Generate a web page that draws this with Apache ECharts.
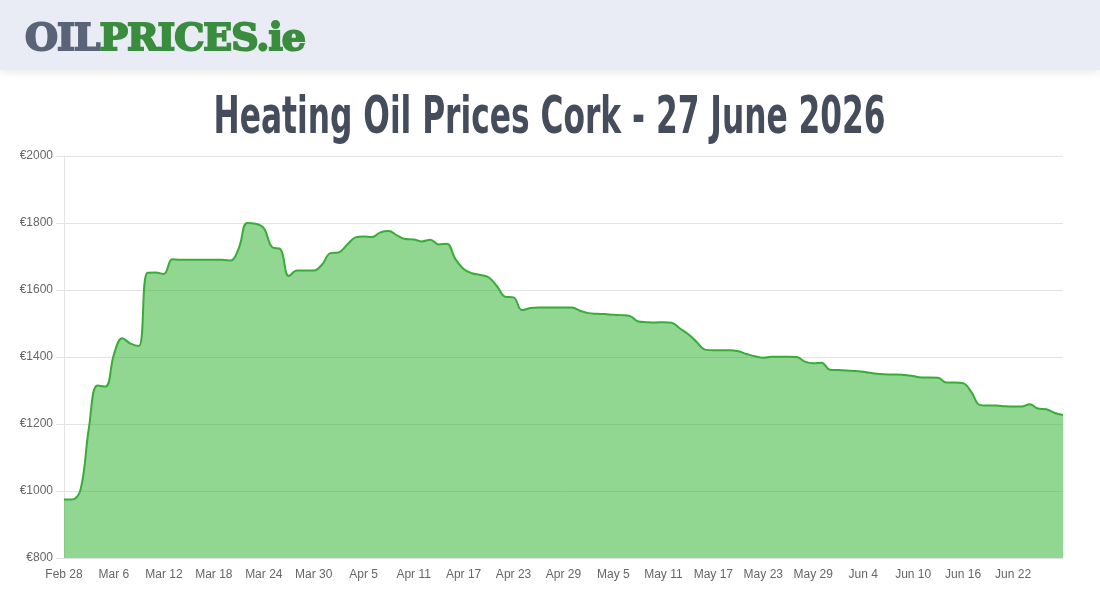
<!DOCTYPE html>
<html>
<head>
<meta charset="utf-8">
<script src="https://cdn.jsdelivr.net/npm/echarts@6/dist/echarts.min.js"></script>
<style>
  html, body { margin: 0; padding: 0; width: 1100px; height: 600px; overflow: hidden; background: #fff; }
  #header { position: absolute; left: 0; top: 0; width: 1100px; height: 70px; background: #e9ecf4;
            box-shadow: 0 3px 8px rgba(0,0,0,0.08); z-index: 2; }
  #logo { position: absolute; left: 25px; top: 14px; font-family: "DejaVu Serif", serif; font-weight: 900;
          font-size: 38px; line-height: 46px; white-space: nowrap; transform-origin: 0 0; letter-spacing: -1px; }
  #logo .a { color: #5a6479; -webkit-text-stroke: 2px #5a6479; }
  #logo .b { color: #3a8c3e; -webkit-text-stroke: 2px #3a8c3e; }
  #title { position: absolute; left: 0; top: 84px; width: 1100px; text-align: center; z-index: 2; }
  #title span { display: inline-block; font-family: "DejaVu Sans Condensed", "Liberation Sans Narrow", sans-serif;
                font-weight: bold; font-size: 52px; line-height: 62px; color: #454d5d; white-space: nowrap;
                transform-origin: 50% 50%; }
  #chart { position: absolute; left: 0; top: 0; width: 1100px; height: 600px; z-index: 1; }
</style>
</head>
<body>
<div id="header"><div id="logo"><span class="a">OIL</span><span class="b">PRICES.ie</span></div></div>
<div id="title"><span id="titleText">Heating Oil Prices Cork - 27 June 2026</span></div>
<div id="chart"></div>
<script>
const dates = [
  "Feb 28",
  "Mar 1","Mar 2","Mar 3","Mar 4","Mar 5","Mar 6","Mar 7","Mar 8","Mar 9","Mar 10",
  "Mar 11","Mar 12","Mar 13","Mar 14","Mar 15","Mar 16","Mar 17","Mar 18","Mar 19","Mar 20",
  "Mar 21","Mar 22","Mar 23","Mar 24","Mar 25","Mar 26","Mar 27","Mar 28","Mar 29","Mar 30","Mar 31",
  "Apr 1","Apr 2","Apr 3","Apr 4","Apr 5","Apr 6","Apr 7","Apr 8","Apr 9","Apr 10",
  "Apr 11","Apr 12","Apr 13","Apr 14","Apr 15","Apr 16","Apr 17","Apr 18","Apr 19","Apr 20",
  "Apr 21","Apr 22","Apr 23","Apr 24","Apr 25","Apr 26","Apr 27","Apr 28","Apr 29","Apr 30",
  "May 1","May 2","May 3","May 4","May 5","May 6","May 7","May 8","May 9","May 10",
  "May 11","May 12","May 13","May 14","May 15","May 16","May 17","May 18","May 19","May 20",
  "May 21","May 22","May 23","May 24","May 25","May 26","May 27","May 28","May 29","May 30","May 31",
  "Jun 1","Jun 2","Jun 3","Jun 4","Jun 5","Jun 6","Jun 7","Jun 8","Jun 9","Jun 10",
  "Jun 11","Jun 12","Jun 13","Jun 14","Jun 15","Jun 16","Jun 17","Jun 18","Jun 19","Jun 20",
  "Jun 21","Jun 22","Jun 23","Jun 24","Jun 25","Jun 26","Jun 27","Jun 28"
];
const shownDateLabels = ["Feb 28","Mar 6","Mar 12","Mar 18","Mar 24","Mar 30","Apr 5","Apr 11","Apr 17",
  "Apr 23","Apr 29","May 5","May 11","May 17","May 23","May 29","Jun 4","Jun 10","Jun 16","Jun 22"];
const pricesFeb = [975];
const pricesMar = [975,1005,1190,1315,1312,1408,1456,1440,1433,1651,
                   1652,1648,1692,1690,1690,1690,1690,1690,1690,1688,
                   1725,1800,1798,1785,1728,1722,1642,1658,1658,1658,1676];
const pricesApr = [1710,1712,1735,1757,1760,1758,1772,1776,1763,1752,
                   1751,1745,1750,1736,1738,1693,1663,1650,1645,1638,
                   1612,1580,1578,1540,1546,1548,1548,1548,1548,1548];
const pricesMay = [1538,1531,1529,1528,1526,1525,1522,1506,1504,1503,
                   1504,1502,1485,1468,1445,1422,1420,1420,1420,1417,
                   1409,1402,1398,1401,1401,1401,1400,1386,1381,1383,1362];
const pricesJun = [1361,1360,1358,1356,1352,1349,1348,1348,1346,1343,
                   1339,1339,1338,1324,1324,1322,1295,1257,1255,1255,
                   1253,1252,1252,1259,1246,1244,1233,1227];
const yTicks = { min: 800, max: 2000, step: 200 };
const prices = pricesFeb.concat(pricesMar, pricesApr, pricesMay, pricesJun);

// fit header texts
(function fit() {
  const logo = document.getElementById('logo');
  const lw = logo.getBoundingClientRect().width;
  logo.style.transform = 'scaleX(' + (280 / lw) + ')';
  const t = document.getElementById('titleText');
  const tw = t.getBoundingClientRect().width;
  t.style.transform = 'scaleX(' + (672 / tw) + ')';
})();

const chart = echarts.init(document.getElementById('chart'), null, { renderer: 'canvas' });
chart.setOption({
  animation: false,
  backgroundColor: 'transparent',
  grid: { left: 64, right: 37, top: 156, bottom: 42, containLabel: false },
  xAxis: {
    type: 'category',
    data: dates,
    boundaryGap: false,
    axisLine: { show: false },
    axisTick: { show: false },
    splitLine: { show: false },
    axisLabel: {
      interval: function (idx, val) { return shownDateLabels.indexOf(val) >= 0; },
      color: '#666', fontSize: 12, margin: 11,
      fontFamily: 'Liberation Sans, Arial, sans-serif'
    }
  },
  yAxis: {
    type: 'value',
    min: yTicks.min, max: yTicks.max, interval: yTicks.step,
    axisLine: { show: true, lineStyle: { color: '#e3e3e3', width: 1 } },
    axisTick: { show: true, length: 8, lineStyle: { color: '#e3e3e3' } },
    splitLine: { show: true, lineStyle: { color: '#e3e3e3', width: 1 } },
    axisLabel: { formatter: function (v) { return '€' + v; }, color: '#666', fontSize: 12, margin: 11,
                 fontFamily: 'Liberation Sans, Arial, sans-serif' }
  },
  series: [{
    type: 'line',
    data: prices,
    smooth: 0.4,
    symbol: 'none',
    lineStyle: { color: '#37ad37', width: 2 },
    areaStyle: { color: 'rgb(55,180,55)', opacity: 0.55 },
    z: 3
  }]
});
</script>
</body>
</html>
